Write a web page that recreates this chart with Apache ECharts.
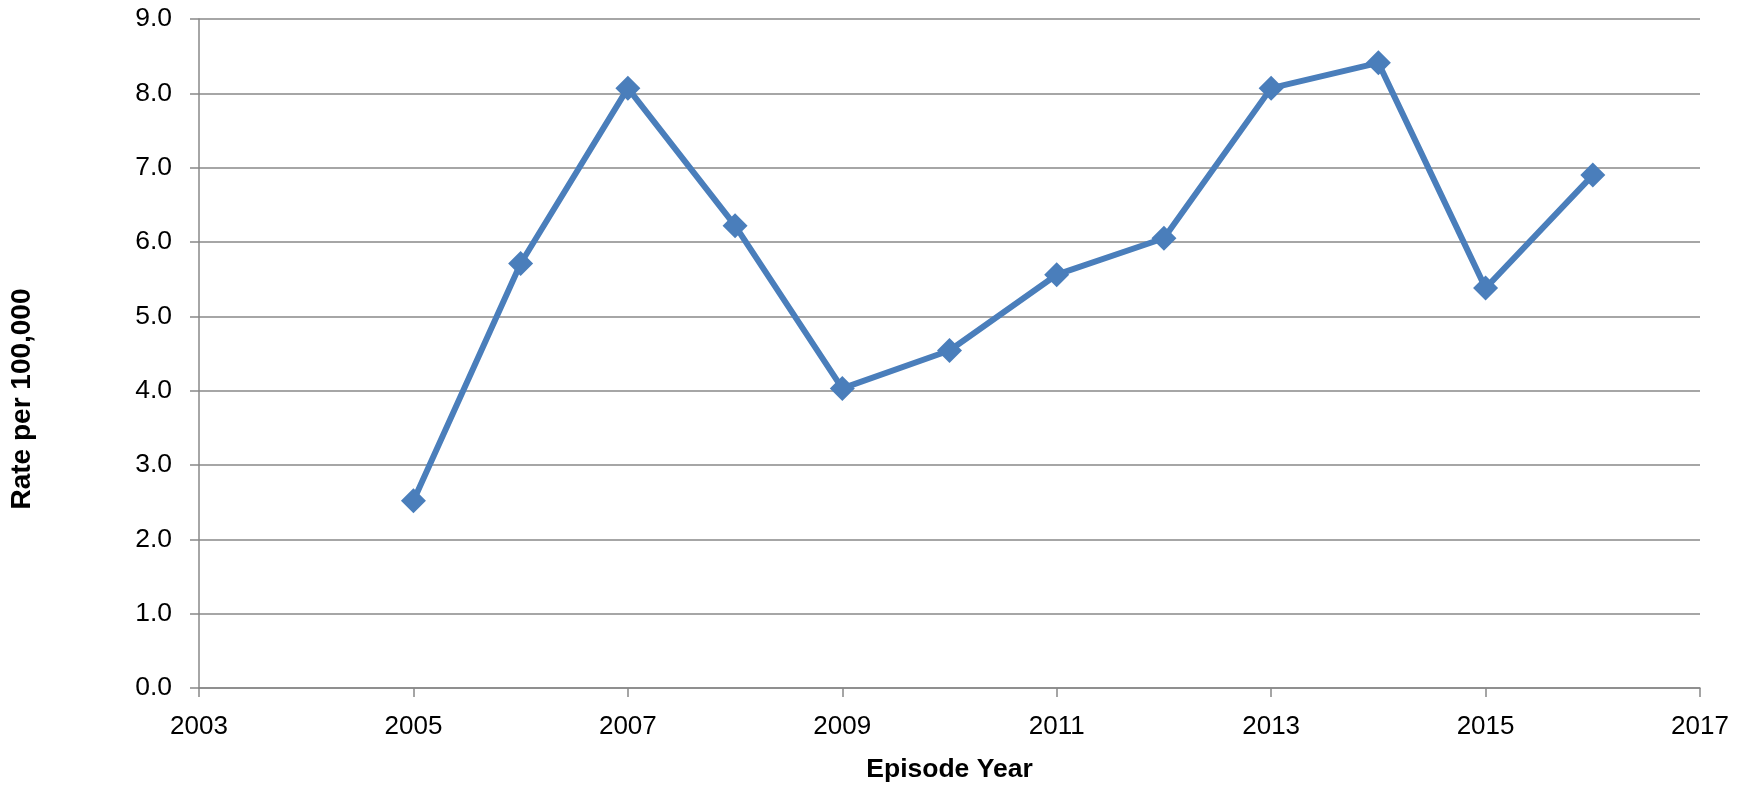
<!DOCTYPE html>
<html><head><meta charset="utf-8">
<script src="https://cdn.jsdelivr.net/npm/echarts@6/dist/echarts.min.js"></script>
<style>html,body{margin:0;padding:0;background:#fff}#c{width:1752px;height:788px}</style>
</head><body><div id="c"></div>
<script>
var years = [2005, 2006, 2007, 2008, 2009, 2010, 2011, 2012, 2013, 2014, 2015, 2016];
var rates = [2.52, 5.71, 8.07, 6.22, 4.03, 4.54, 5.56, 6.05, 8.07, 8.41, 5.38, 6.90];
var xTitle = 'Episode Year';
var yTitle = 'Rate per 100,000';

var font = 'Liberation Sans, Arial, sans-serif';
var chart = echarts.init(document.getElementById('c'));
var gridL = 199, gridR = 52, gridT = 19, gridB = 100;
chart.setOption({
  animation: false,
  grid: {left: gridL, right: gridR, top: gridT, bottom: gridB},
  xAxis: {
    type: 'value', min: 2003, max: 2017, interval: 2,
    axisLine: {lineStyle: {color: '#888', width: 1.5}},
    axisTick: {show: true, length: 9, lineStyle: {color: '#888', width: 1.5}},
    splitLine: {show: false},
    axisLabel: {color: '#000', fontSize: 26, fontFamily: font, margin: 26, formatter: function(v){return String(v);}}
  },
  yAxis: {
    type: 'value', min: 0, max: 9, interval: 1,
    axisLine: {show: true, lineStyle: {color: '#888', width: 1.5}},
    axisTick: {show: true, length: 9, lineStyle: {color: '#888', width: 1.5}},
    splitLine: {show: true, lineStyle: {color: '#888', width: 1.5}},
    axisLabel: {color: '#000', fontSize: 26.5, fontFamily: font, margin: 27, formatter: function(v){return v.toFixed(1);}}
  },
  graphic: [
    {type: 'text', x: 949.5, y: 770, style: {text: xTitle, font: 'bold 26.5px ' + font, fill: '#000', textAlign: 'center', textVerticalAlign: 'middle'}},
    {type: 'text', x: 22, y: 399, rotation: Math.PI/2, style: {text: yTitle, font: 'bold 28px ' + font, fill: '#000', textAlign: 'center', textVerticalAlign: 'middle'}}
  ],
  series: [{
    type: 'line',
    data: years.map(function(y, i){return [y, rates[i]];}),
    lineStyle: {color: '#4a7ebb', width: 6},
    itemStyle: {color: '#4a7ebb'},
    symbol: 'diamond', symbolSize: 25,
    showSymbol: true
  }]
});
</script></body></html>
